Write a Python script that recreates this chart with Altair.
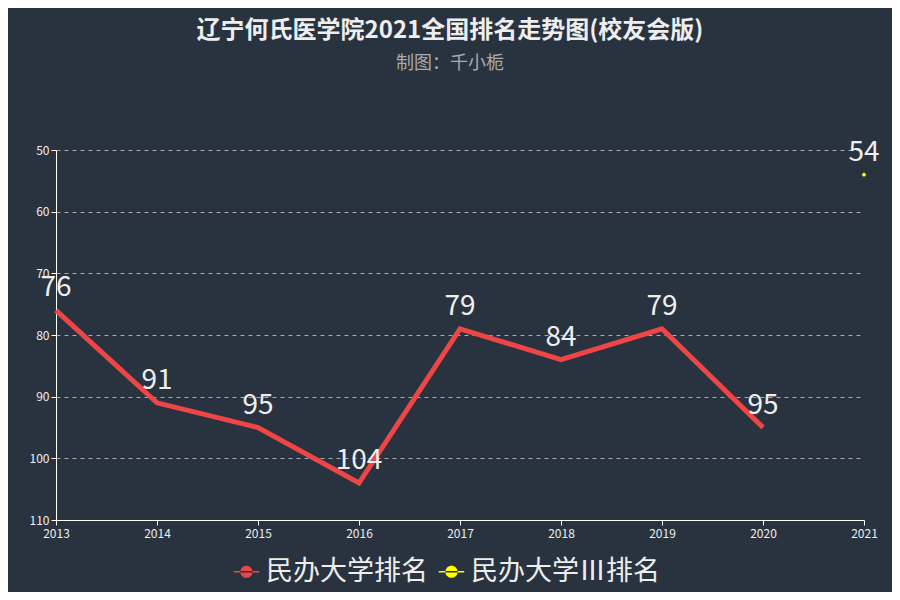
import altair as alt
import pandas as pd

# ---------------------------------------------------------------------------
# Data
# ---------------------------------------------------------------------------
years = [2013, 2014, 2015, 2016, 2017, 2018, 2019, 2020, 2021]
rank_minban = [76, 91, 95, 104, 79, 84, 79, 95, None]
rank_minban3 = [None, None, None, None, None, None, None, None, 54]
series_names = ["民办大学排名", "民办大学Ⅲ排名"]
series_colors = ["#ee4646", "#ffff00"]
y_ticks = [50, 60, 70, 80, 90, 100, 110]

rows = []
for name, vals in zip(series_names, [rank_minban, rank_minban3]):
    for yr, v in zip(years, vals):
        if v is not None:
            rows.append({"year": yr, "rank": v, "series": name})
df = pd.DataFrame(rows)

BG = "#29333f"
FONT = "Noto Sans CJK SC"

x = alt.X("year:Q", title=None,
          scale=alt.Scale(domain=[years[0], years[-1]], nice=False, zero=False),
          axis=alt.Axis(values=years, format="d", grid=False, labelFontSize=12,
                        labelFlush=False, labelColor="#eeeeee",
                        domainColor="#ffffff", tickColor="#ffffff",
                        tickSize=5, labelPadding=3))
y = alt.Y("rank:Q", title=None,
          scale=alt.Scale(domain=[50, 110], reverse=True, nice=False, zero=False),
          axis=alt.Axis(values=y_ticks, grid=True, gridColor="#aaaaaa",
                        gridDash=[4, 4], gridWidth=1, labelFontSize=12,
                        labelColor="#eeeeee", domainColor="#ffffff",
                        tickColor="#ffffff", tickSize=5, labelPadding=2))

# legend glyph: short line with a dot in the middle
color = alt.Color(
    "series:N",
    scale=alt.Scale(domain=series_names, range=series_colors),
    legend=alt.Legend(
        title=None, orient="none", direction="horizontal",
        legendX=177, legendY=408,
        symbolType="M-1,-0.05H1V0.05H-1Z M-0.48,0A0.48,0.48 0 1,0 0.48,0A0.48,0.48 0 1,0 -0.48,0Z",
        symbolSize=650, symbolStrokeWidth=0, symbolOpacity=1,
        labelFontSize=27, labelColor="#eeeeee", labelFont=FONT, labelLimit=400,
        columnPadding=10, symbolOffset=0, labelOffset=6,
    ),
)

base = alt.Chart(df)

dot = base.transform_filter(alt.datum.series == series_names[1]).mark_point(
    filled=True, size=14, opacity=1
).encode(x=x, y=y, color=color)

line = base.transform_filter(alt.datum.series == series_names[0]).mark_line(
    strokeWidth=5
).encode(x=x, y=y, color=color)

labels = base.mark_text(
    dy=-22, fontSize=28, color="#eeeeee", font=FONT
).encode(x=x, y=y, text="rank:Q")

chart = (
    alt.layer(dot, line, labels)
    .properties(
        width=808, height=370,
        autosize=alt.AutoSizeParams(type="none"),
        padding={"left": 48, "top": 142, "right": 28, "bottom": 72},
        background=BG,
        title=alt.TitleParams(
            "辽宁何氏医学院2021全国排名走势图(校友会版)",
            subtitle="制图：千小栀",
            anchor="middle", dx=-10, offset=66,
            font=FONT, fontSize=24, fontWeight="bold", color="#eeeeee",
            subtitleFont=FONT, subtitleFontSize=18, subtitleColor="#aaaaaa",
            subtitlePadding=12,
        ),
    )
    .configure_view(strokeWidth=0)
    .configure_axis(labelFont=FONT)
)

chart.save("out.html", embed_options={"renderer": "svg", "actions": False})
